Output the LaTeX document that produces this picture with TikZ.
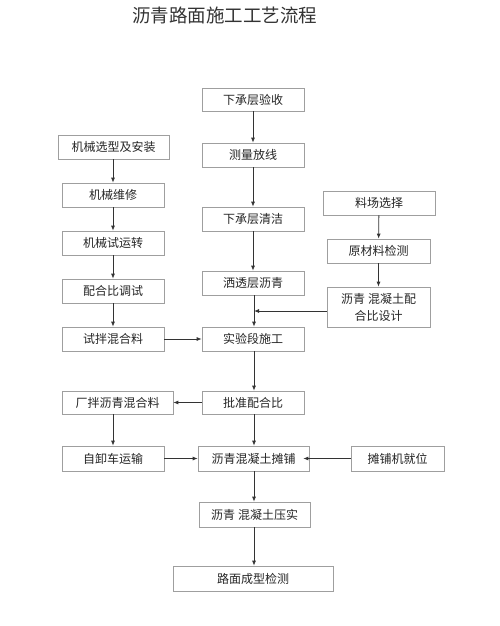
\documentclass[tikz,border=0pt]{standalone}
\usepackage{fontspec}
\setmainfont{Noto Sans CJK SC}
\usetikzlibrary{arrows.meta,shadows}
\begin{document}
\begin{tikzpicture}[x=1pt,y=-1pt,
  box/.style={draw=gray!75, line width=0.7pt, fill=white, inner sep=0pt,
    minimum height=24pt, minimum width=102pt, font=\fontsize{12pt}{14pt}\selectfont, text=black!85,
    general shadow={shadow xshift=0.8pt, shadow yshift=-0.8pt, fill=black!60}},
  arr/.style={draw=black!80, line width=0.8pt, -{Latex[length=5pt,width=4pt]}}]
\useasboundingbox (0,0) rectangle (500,626);
\node[font=\fontsize{18.5pt}{20pt}\selectfont, text=black!80] (title) at (224.5,15) {沥青路面施工工艺流程};
% centre column
\node[box, minimum height=23pt] (a1) at (253,99.5) {下承层验收};
\node[box] (a2) at (253,155) {测量放线};
\node[box] (a3) at (253,219) {下承层清洁};
\node[box] (a4) at (253,283) {洒透层沥青};
\node[box] (a5) at (253,339) {实验段施工};
\node[box, minimum height=23pt] (a6) at (253,402.5) {批准配合比};
\node[box, minimum width=111pt, minimum height=25pt] (a7) at (253.5,458.5) {沥青混凝土摊铺};
\node[box, minimum width=111pt, minimum height=25pt] (a8) at (254.5,514.5) {沥青\hspace{3pt}混凝土压实};
\node[box, minimum width=160pt, minimum height=25pt] (a9) at (253,578.5) {路面成型检测};
% left column
\node[box, minimum width=111pt] (b1) at (113.5,147) {机械选型及安装};
\node[box] (b2) at (113,195) {机械维修};
\node[box] (b3) at (113,243) {机械试运转};
\node[box] (b4) at (113,291) {配合比调试};
\node[box] (b5) at (113,339) {试拌混合料};
\node[box, minimum width=111pt, minimum height=23pt] (b6) at (117.5,402.5) {厂拌沥青混合料};
\node[box, minimum height=25pt] (b7) at (113,458.5) {自卸车运输};
% right column
\node[box, minimum width=112pt] (c1) at (379,203) {料场选择};
\node[box, minimum width=103pt] (c2) at (378.5,251) {原材料检测};
\node[box, minimum width=103pt, minimum height=40pt, align=center, font=\fontsize{12pt}{17pt}\selectfont] (c3) at (378.5,307) {沥青\hspace{3pt}混凝土配\\合比设计};
\node[box, minimum width=93pt, minimum height=25pt] (c4) at (397.5,458.5) {摊铺机就位};
\coordinate (m) at (254,311);
% arrows
\draw[arr] (a1) -- (a2);
\draw[arr] (a2) -- (a3);
\draw[arr] (a3) -- (a4);
\draw[arr] (a4.south -| m) -- (a5.north -| m);
\draw[arr] (c3.west |- m) -- (m);
\draw[arr] (a5.south -| m) -- (a6.north -| m);
\draw[arr] (a6.west) -- (b6.east);
\draw[arr] (a6.south -| m) -- (a7.north -| m);
\draw[arr] (a7.south -| m) -- (a8.north -| m);
\draw[arr] (a8.south -| m) -- (a9.north -| m);
\draw[arr] (b1.south -| b2.north) -- (b2.north);
\draw[arr] (b2) -- (b3);
\draw[arr] (b3) -- (b4);
\draw[arr] (b4) -- (b5);
\draw[arr] (b5) -- (a5);
\draw[arr] (b6.south -| b7.north) -- (b7.north);
\draw[arr] (b7) -- (a7);
\draw[arr] (c4.west) -- ([xshift=-6pt]a7.east);
\draw[arr] (c1) -- (c2);
\draw[arr] (c2) -- (c3);
\end{tikzpicture}
\end{document}
